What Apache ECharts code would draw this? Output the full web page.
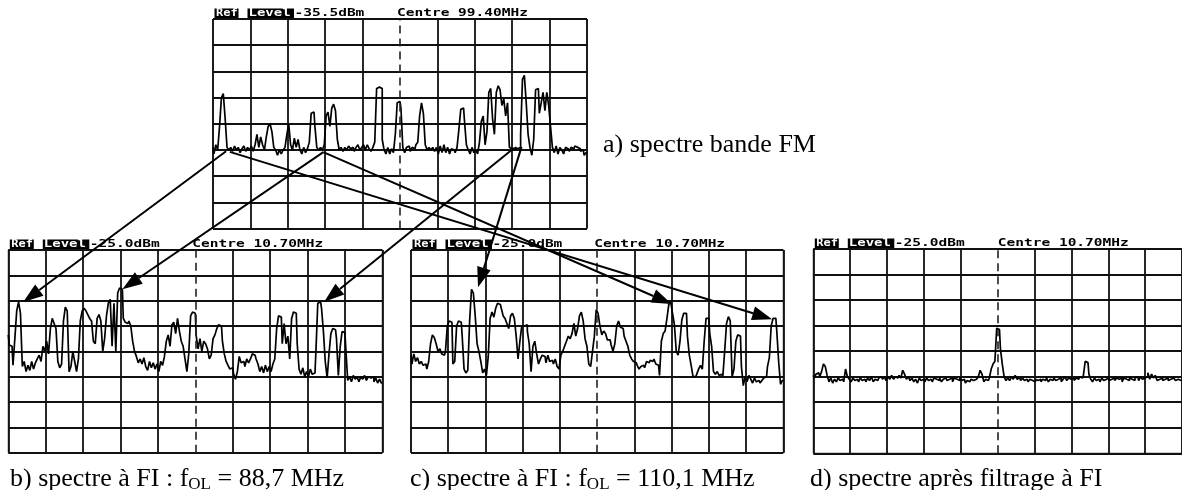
<!DOCTYPE html>
<html>
<head>
<meta charset="utf-8">
<script src="https://cdn.jsdelivr.net/npm/echarts@6/dist/echarts.min.js"></script>
<style>
html, body { margin: 0; padding: 0; background: #fff; }
#main { width: 1182px; height: 490px; }
</style>
</head>
<body>
<div id="main"></div>
<script>
// traces, in divisions above the bottom graticule line,
// one sample every 1/20 division (201 samples across the 10 divisions)
const traceA = [
  3.1, 2.85, 3.2, 3.0, 3.9, 5.0, 5.15, 4.2, 3.1, 3.0, 3.1, 2.95, 3.15, 3.0, 3.1, 2.9, 3.05, 3.15, 2.95, 3.1,
  3.0, 3.15, 2.95, 3.2, 3.6, 3.1, 3.5, 3.2, 3.0, 3.5, 3.9, 4.0, 3.7, 3.1, 3.0, 2.8, 3.0, 2.85, 3.0, 3.1,
  3.6, 4.0, 3.2, 3.0, 3.45, 3.1, 3.4, 3.0, 2.85, 3.1, 2.9, 3.05, 3.3, 4.4, 4.45, 3.9, 3.1, 3.0, 3.1, 3.0,
  3.2, 4.3, 4.45, 3.9, 4.6, 4.75, 4.5, 3.4, 3.0, 3.1, 2.95, 3.1, 3.0, 3.15, 3.05, 3.1, 2.95, 3.1, 3.2, 3.0,
  3.1, 3.2, 3.0, 3.2, 3.05, 2.95, 3.1, 3.3, 5.35, 5.4, 5.35, 3.4, 3.0, 2.85, 3.1, 2.85, 3.05, 2.9, 3.6, 4.8,
  4.85, 4.6, 3.1, 2.9, 3.1, 3.15, 2.95, 3.1, 3.05, 3.2, 3.3, 4.3, 4.8, 4.4, 3.2, 3.0, 3.1, 3.0, 3.1, 2.95,
  3.1, 2.85, 3.15, 2.9, 3.2, 2.9, 3.1, 2.85, 3.05, 3.0, 2.9, 3.1, 3.8, 4.55, 4.6, 4.1, 3.2, 3.0, 2.85, 3.1,
  2.9, 3.0, 2.85, 3.3, 4.1, 4.3, 3.2, 3.7, 5.2, 5.35, 4.2, 3.6, 5.2, 5.45, 5.3, 4.7, 4.95, 4.3, 4.8, 3.1,
  3.05, 3.0, 3.1, 3.05, 3.1, 3.6, 5.7, 5.85, 4.8, 3.6, 3.1, 2.8, 3.4, 5.3, 5.35, 4.4, 4.8, 5.2, 4.5, 5.2,
  4.7, 3.9, 3.1, 2.9, 3.15, 2.85, 3.1, 3.0, 2.85, 3.1, 3.05, 2.95, 3.1, 3.05, 3.15, 3.1, 3.05, 2.95, 3.0, 2.8,
  2.9
];
const traceB = [
  4.65, 4.25, 4.2, 3.45, 4.5, 5.6, 5.95, 5.5, 3.4, 3.6, 3.2, 3.45, 3.25, 3.6, 3.3, 3.55, 3.7, 3.85, 3.6, 4.2,
  4.0, 4.4, 3.9, 4.9, 5.3, 5.1, 4.9, 3.6, 3.35, 3.5, 5.2, 5.75, 5.6, 3.2, 3.4, 4.0, 3.6, 3.2, 3.7, 5.2,
  5.6, 5.7, 5.6, 5.45, 5.3, 5.2, 4.4, 4.3, 5.3, 5.45, 5.2, 4.0, 4.5, 5.4, 5.9, 6.05, 4.2, 5.9, 4.0, 6.3,
  6.5, 6.45, 5.3, 5.15, 5.1, 5.2, 5.0, 4.4, 4.0, 3.8, 3.55, 3.7, 3.5, 3.75, 3.4, 3.25, 3.6, 3.35, 3.55, 3.3,
  3.5, 3.2, 3.6, 3.45, 3.8, 4.4, 4.65, 4.2, 5.05, 5.15, 4.7, 5.3, 4.8, 4.4, 4.2, 3.7, 3.2, 3.9, 5.4, 5.55,
  5.5, 4.6, 4.1, 4.5, 4.0, 4.4, 4.3, 4.1, 3.7, 3.85, 4.5, 4.65, 4.9, 5.05, 5.0, 4.4, 3.9, 3.6, 3.45, 3.3,
  3.35, 3.1, 2.9, 3.2, 3.8, 3.55, 3.6, 3.4, 3.7, 3.55, 3.7, 3.9, 3.85, 3.7, 3.5, 3.2, 3.4, 3.15, 3.45, 3.2,
  3.4, 3.2, 3.5, 3.7, 4.9, 5.4, 5.35, 4.3, 5.1, 4.3, 4.6, 3.7, 5.3, 5.55, 5.5, 4.3, 3.3, 3.1, 3.35, 3.0,
  3.2, 3.0, 3.3, 3.1, 3.15, 4.0, 5.9, 5.95, 5.7, 4.8, 3.6, 2.95, 3.9, 4.7, 4.9, 4.85, 4.5, 3.05, 4.2, 4.78,
  4.75, 4.1, 2.85, 3.0, 2.8, 3.05, 2.9, 3.0, 2.8, 3.0, 2.9, 3.05, 2.85, 3.0, 2.95, 3.0, 2.8, 2.95, 2.75, 2.9,
  2.75
];
const traceC = [
  3.85, 3.5, 3.9, 3.6, 3.75, 3.5, 3.6, 3.45, 3.5, 3.3, 3.6, 4.3, 4.65, 4.55, 4.3, 4.0, 4.1, 3.9, 3.85, 4.0,
  5.0, 5.2, 5.15, 3.5, 3.6, 5.0, 5.2, 5.15, 4.6, 3.3, 3.15, 3.25, 5.2, 6.45, 6.3, 5.4, 4.3, 4.0, 3.6, 3.15,
  3.3, 3.05, 3.8, 5.3, 5.55, 5.35, 5.7, 5.9, 5.85, 5.7, 5.4, 5.3, 5.1, 4.9, 5.4, 5.5, 5.3, 4.6, 3.7, 4.4,
  5.0, 5.0, 5.05, 4.8, 4.3, 3.2, 4.2, 4.4, 3.9, 3.5, 3.7, 3.85, 3.8, 3.55, 3.85, 3.6, 3.65, 3.5, 3.7, 3.4,
  3.3, 3.85, 4.0, 4.2, 4.4, 4.6, 4.5, 4.7, 5.1, 4.6, 4.9, 5.4, 5.55, 5.2, 4.5, 4.2, 3.5, 3.4, 4.0, 4.6,
  5.65, 5.5, 5.0, 4.65, 4.8, 4.7, 4.45, 4.45, 4.25, 4.0, 4.3, 5.0, 5.2, 4.95, 4.9, 4.6, 4.4, 4.2, 3.85, 3.7,
  3.6, 3.55, 3.45, 3.3, 3.4, 3.45, 3.35, 3.6, 3.55, 3.65, 3.6, 3.7, 3.5, 3.45, 3.05, 4.4, 4.7, 4.8, 5.3, 5.85,
  5.95, 5.5, 5.05, 4.0, 3.85, 4.4, 5.25, 5.5, 5.5, 4.6, 3.85, 3.45, 3.0, 3.0, 3.1, 3.3, 3.45, 3.3, 4.4, 5.3,
  5.3, 4.7, 4.2, 3.2, 3.1, 3.2, 3.05, 3.1, 3.0, 4.0, 5.1, 5.37, 5.2, 3.0, 3.3, 4.4, 4.65, 4.6, 3.4, 2.65,
  3.0, 2.8, 3.05, 2.9, 2.75, 2.95, 2.8, 2.85, 2.75, 2.85, 2.95, 3.0, 3.4, 3.75, 5.0, 5.3, 5.3, 4.8, 3.6, 2.7,
  2.85
];
const traceD = [
  3.05, 2.95, 3.1, 3.15, 3.0, 3.2, 3.5, 3.4, 3.05, 2.8, 2.95, 2.75, 2.9, 2.8, 2.95, 2.85, 2.9, 2.8, 3.3, 3.0,
  2.9, 2.8, 2.95, 2.85, 2.9, 2.8, 2.95, 2.85, 2.9, 2.8, 2.95, 2.85, 3.0, 2.8, 2.9, 2.85, 2.95, 3.0, 2.9, 3.0,
  2.85, 3.0, 2.9, 3.05, 2.9, 3.0, 2.95, 3.05, 2.95, 3.25, 3.1, 2.9, 3.0, 2.85, 2.95, 2.8, 2.9, 2.75, 2.95, 2.85,
  2.9, 2.8, 2.95, 2.85, 2.9, 2.8, 2.95, 2.9, 2.85, 2.95, 2.8, 2.9, 2.95, 2.85, 2.9, 2.95, 2.8, 2.95, 2.9, 2.85,
  2.95, 2.85, 2.9, 2.75, 2.85, 2.8, 2.9, 2.85, 2.9, 2.95, 3.0, 3.25, 3.1, 2.8, 2.9, 2.85, 2.95, 3.3, 3.5, 3.6,
  4.9, 4.85, 4.1, 3.5, 3.0, 2.85, 2.95, 2.85, 3.0, 2.9, 3.05, 2.9, 2.95, 2.85, 2.95, 2.85, 2.9, 2.8, 2.9, 2.85,
  2.8, 2.9, 2.85, 2.9, 2.8, 2.9, 2.85, 2.95, 2.8, 2.9, 2.85, 2.95, 2.85, 2.9, 2.95, 2.8, 2.9, 3.0, 2.85, 2.95,
  2.9, 2.95, 2.85, 2.95, 2.9, 3.0, 2.95, 3.05, 3.6, 3.55, 3.1, 2.9, 2.8, 2.95, 2.85, 2.9, 2.8, 2.95, 2.85, 2.9,
  2.95, 2.85, 2.9, 2.95, 2.85, 2.95, 2.9, 2.95, 2.8, 2.95, 2.9, 2.85, 2.95, 2.9, 2.85, 2.95, 3.0, 2.85, 3.0, 2.9,
  2.95, 3.0, 3.15, 2.9, 3.1, 2.95, 3.05, 2.85, 2.9, 2.95, 2.85, 2.9, 2.95, 2.85, 2.9, 2.95, 2.9, 2.85, 2.9, 2.85,
  2.9
];

const refLevels = ['-35.5dBm', '-25.0dBm', '-25.0dBm', '-25.0dBm'];
const centres = ['99.40MHz', '10.70MHz', '10.70MHz', '10.70MHz'];
// caption: text before subscript, subscript, text after
const captions = [
  ['a) spectre bande FM', '', ''],
  ['b) spectre à FI : f', 'OL', ' = 88,7 MHz'],
  ['c) spectre à FI : f', 'OL', ' = 110,1 MHz'],
  ['d) spectre après filtrage à FI', '', '']
];
// arrows: from screen a (sample index, level) to screen b/c (sample index, level)
const arrows = [
  [0, 7, 2.95, 1, 8, 5.95],
  [0, 59, 2.92, 1, 61, 6.45],
  [0, 161, 3.08, 1, 169, 5.96],
  [0, 165, 3.12, 2, 36, 6.53],
  [0, 9, 2.93, 2, 194, 5.27],
  [0, 59, 2.92, 2, 140, 5.87]
];

const traces = [traceA, traceB, traceC, traceD];
const samples = traceA.map((_, i) => String(i));

// screen layout (pixels)
const panels = [
  { left: 213, top: 19, width: 374, height: 209.6 },
  { left: 8.3, top: 250, width: 374, height: 202.7 },
  { left: 411, top: 250, width: 372.3, height: 202.7 },
  { left: 813.3, top: 249, width: 375, height: 204.3 }
];
const captionPos = [[603, 145], [10, 479], [410, 479], [810, 479]];

const chart = echarts.init(document.getElementById('main'), null, { renderer: 'canvas' });

const gridStyle = { color: '#111', width: 1.8 };

const option = {
  animation: false,
  backgroundColor: '#fff',
  grid: panels.map(p => ({
    left: p.left, top: p.top, width: p.width, height: p.height,
    show: true, borderColor: '#000', borderWidth: 1, containLabel: false
  })),
  xAxis: panels.map((p, i) => ({
    type: 'category', gridIndex: i, data: samples, boundaryGap: false,
    axisLine: { show: false }, axisTick: { show: false }, axisLabel: { show: false },
    splitLine: {
      show: true,
      interval: (idx) => idx % 20 === 0 && idx !== 100,
      lineStyle: gridStyle
    }
  })),
  yAxis: panels.map((p, i) => ({
    type: 'value', gridIndex: i, min: 0, max: 8, interval: 1,
    axisLine: { show: false }, axisTick: { show: false }, axisLabel: { show: false },
    splitLine: { show: true, lineStyle: gridStyle }
  })),
  series: traces.map((t, i) => ({
    type: 'line', xAxisIndex: i, yAxisIndex: i, data: t,
    showSymbol: false, step: 'middle',
    lineStyle: { color: '#000', width: 1.7 },
    markLine: {
      silent: true, symbol: 'none', label: { show: false },
      lineStyle: { color: '#222', width: 1.6, type: [8, 5] },
      data: [{ xAxis: '100' }]
    }
  }))
};
chart.setOption(option);

// ---- texts and arrows ----
const measure = document.createElement('canvas').getContext('2d');
function textWidth(str, font) { measure.font = font; return measure.measureText(str).width; }

const monoFont = 'bold 10px "DejaVu Sans Mono"';
const monoScale = 1.45;
const graphics = [];
panels.forEach((p, i) => {
  const ty = p.top - 5.5;
  graphics.push({ type: 'rect', shape: { x: p.left + 1.5, y: p.top - 10.5, width: 24, height: 9.5 }, style: { fill: '#000' } });
  graphics.push({ type: 'text', x: p.left + 3, y: ty, scaleX: 1.2,
    style: { text: 'Ref', fill: '#fff', font: monoFont, verticalAlign: 'middle' } });
  graphics.push({ type: 'rect', shape: { x: p.left + 34.5, y: p.top - 10.5, width: 46.5, height: 9.5 }, style: { fill: '#000' } });
  graphics.push({ type: 'text', x: p.left + 35.5, y: ty, scaleX: 1.4,
    style: { text: 'Level', fill: '#fff', font: monoFont, verticalAlign: 'middle' } });
  graphics.push({ type: 'text', x: p.left + 81.5, y: ty, scaleX: monoScale,
    style: { text: refLevels[i], fill: '#000', font: monoFont, verticalAlign: 'middle' } });
  graphics.push({ type: 'text', x: p.left + p.width / 2 - 3, y: ty, scaleX: monoScale,
    style: { text: 'Centre ' + centres[i], fill: '#000', font: monoFont, verticalAlign: 'middle' } });

  const [cx, cy] = captionPos[i];
  const mainFont = '26px "Liberation Serif"';
  const subFont = '17px "Liberation Serif"';
  const c = captions[i];
  let x = cx;
  graphics.push({ type: 'text', x: x, y: cy, style: { text: c[0], fill: '#000', font: mainFont, verticalAlign: 'middle' } });
  x += textWidth(c[0], mainFont);
  if (c[1]) {
    graphics.push({ type: 'text', x: x, y: cy + 6, style: { text: c[1], fill: '#000', font: subFont, verticalAlign: 'middle' } });
    x += textWidth(c[1], subFont);
    graphics.push({ type: 'text', x: x, y: cy, style: { text: c[2], fill: '#000', font: mainFont, verticalAlign: 'middle' } });
  }
});

const headLen = 20, headHalf = 7;
arrows.forEach(a => {
  const p0 = chart.convertToPixel({ gridIndex: a[0] }, [a[1], a[2]]);
  const p1 = chart.convertToPixel({ gridIndex: a[3] }, [a[4], a[5]]);
  const dx = p1[0] - p0[0], dy = p1[1] - p0[1];
  const len = Math.sqrt(dx * dx + dy * dy);
  const ux = dx / len, uy = dy / len;
  const bx = p1[0] - ux * headLen, by = p1[1] - uy * headLen;
  graphics.push({ type: 'line', z: 100, shape: { x1: p0[0], y1: p0[1], x2: bx, y2: by },
    style: { stroke: '#000', lineWidth: 2 } });
  graphics.push({ type: 'polygon', z: 100, shape: { points: [
    [p1[0], p1[1]], [bx - uy * headHalf, by + ux * headHalf], [bx + uy * headHalf, by - ux * headHalf]
  ] }, style: { fill: '#000' } });
});

chart.setOption({ graphic: graphics });
window.addEventListener('resize', () => chart.resize());
</script>
</body>
</html>
